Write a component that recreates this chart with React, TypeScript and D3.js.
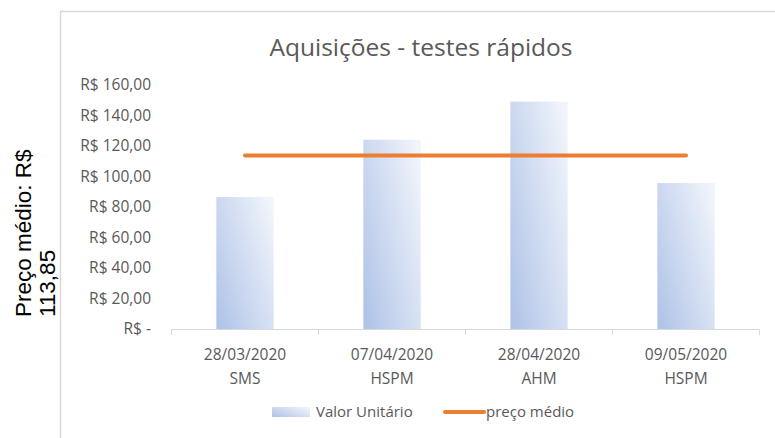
import React from 'react';
import * as d3 from 'd3';

const categories = ['28/03/2020|SMS', '07/04/2020|HSPM', '28/04/2020|AHM', '09/05/2020|HSPM'];
const valorUnitario = [86.5, 124.1, 149.1, 95.7];
const precoMedio = [113.85, 113.85, 113.85, 113.85];
const yTicks = [0, 20, 40, 60, 80, 100, 120, 140, 160];

const W = 775;
const H = 438;
const font = '"Open Sans", Lato, sans-serif';
const grey = '#595959';

const fmt = (v: number) =>
  v === 0 ? 'R$ -' : 'R$ ' + v.toFixed(2).replace('.', ',');

export default function App() {
  const x = d3.scaleBand().domain(categories).range([171.5, 759.5]).paddingInner(0).paddingOuter(0);
  const y = d3.scaleLinear().domain([0, 160]).range([329, 85]);
  const barW = x.bandwidth() * 0.39;

  const line = d3
    .line<number>()
    .x((_, i) => (x(categories[i]) as number) + x.bandwidth() / 2)
    .y((d) => y(d));

  return (
    <svg width={W} height={H} style={{ position: 'absolute', left: 0, top: 0, background: '#fff' }}>
      <defs>
        <linearGradient id="barGrad" x1="0" y1="0.85" x2="1" y2="0.15">
          <stop offset="0" stopColor="#b2c5e8" />
          <stop offset="1" stopColor="#f0f4fb" />
        </linearGradient>
      </defs>

      {/* chart frame */}
      <path d={`M60.5,${H} V11.5 H${W}`} fill="none" stroke="#d9d9d9" strokeWidth={1.5} />

      <text x={421} y={56} textAnchor="middle" fontFamily={font} fontSize={24.5} fill={grey}>
        Aquisições - testes rápidos
      </text>

      {/* y axis label */}
      <text transform="translate(31,317) rotate(-90)" fontFamily='"Liberation Sans", Arial, sans-serif' fontSize={22.5} fill="#000">
        <tspan x={0} y={0}>Preço médio: R$</tspan>
        <tspan x={0} y={24}>113,85</tspan>
      </text>

      {yTicks.map((t) => (
        <text key={t} x={151} y={y(t)} dy="0.35em" textAnchor="end" fontFamily={font} fontSize={15.5} fill={grey}>
          {fmt(t)}
        </text>
      ))}

      {categories.map((c, i) => {
        const cx = (x(c) as number) + x.bandwidth() / 2;
        return (
          <rect
            key={c}
            x={cx - barW / 2}
            y={y(valorUnitario[i])}
            width={barW}
            height={y(0) - y(valorUnitario[i])}
            fill="url(#barGrad)"
          />
        );
      })}

      {/* x axis */}
      <line x1={x.range()[0]} x2={x.range()[1]} y1={329.5} y2={329.5} stroke="#d9d9d9" strokeWidth={1} />
      {[...categories.map((c) => x(c) as number), x.range()[1]].map((tx, i) => (
        <line key={i} x1={tx} x2={tx} y1={329.5} y2={335} stroke="#d9d9d9" strokeWidth={1} />
      ))}
      {categories.map((c) => {
        const [d, org] = c.split('|');
        const cx = (x(c) as number) + x.bandwidth() / 2;
        return (
          <text key={c} x={cx} textAnchor="middle" fontFamily={font} fontSize={15.5} fill={grey}>
            <tspan x={cx} y={360}>{d}</tspan>
            <tspan x={cx} y={384}>{org}</tspan>
          </text>
        );
      })}

      <path d={line(precoMedio) || ''} fill="none" stroke="#ed7d31" strokeWidth={4} strokeLinecap="round" />

      {/* legend */}
      <rect x={272} y={407} width={38} height={10} fill="url(#barGrad)" />
      <text x={316} y={412} dy="0.35em" fontFamily={font} fontSize={15} fill={grey}>Valor Unitário</text>
      <line x1={445} x2={484} y1={412} y2={412} stroke="#ed7d31" strokeWidth={4} strokeLinecap="round" />
      <text x={486} y={412} dy="0.35em" fontFamily={font} fontSize={15} fill={grey}>preço médio</text>
    </svg>
  );
}
